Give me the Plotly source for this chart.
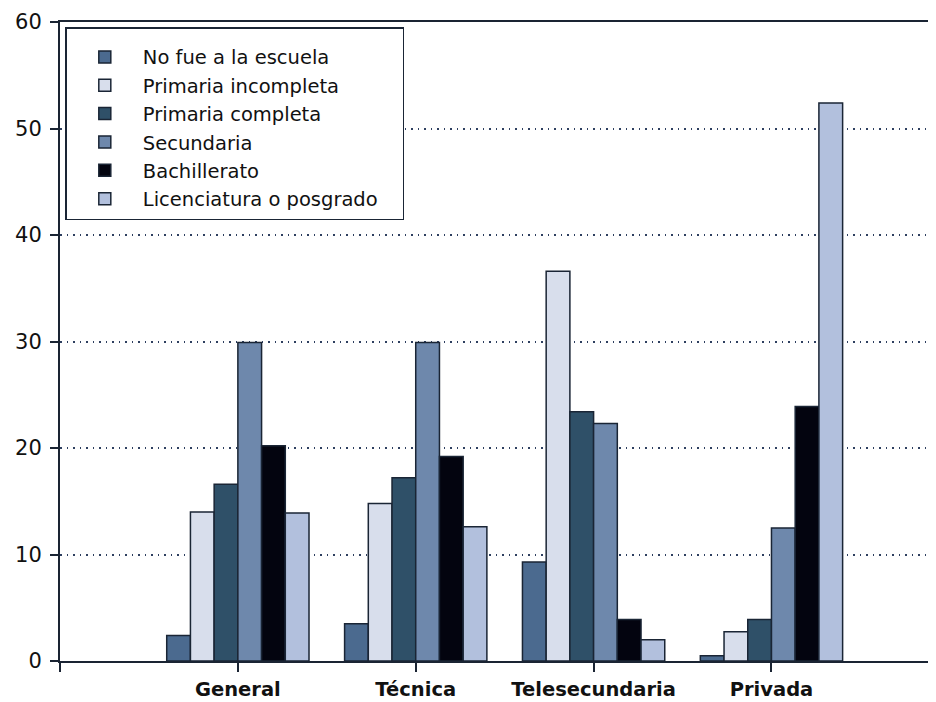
import plotly.graph_objects as go

categories = ["General", "Técnica", "Telesecundaria", "Privada"]
axis_categories = [" "] + categories

series_names = [
    "No fue a la escuela",
    "Primaria incompleta",
    "Primaria completa",
    "Secundaria",
    "Bachillerato",
    "Licenciatura o posgrado",
]
no_fue = [2.4, 3.5, 9.3, 0.5]
prim_incompleta = [14.0, 14.8, 36.6, 2.75]
prim_completa = [16.6, 17.2, 23.4, 3.9]
secundaria = [29.9, 29.9, 22.3, 12.5]
bachillerato = [20.2, 19.2, 3.9, 23.9]
licenciatura = [13.9, 12.6, 2.0, 52.4]

colors = ["#4b6a8f", "#d8deec", "#2f5068", "#6e88ac", "#03040f", "#b2c0dd"]
series_values = [no_fue, prim_incompleta, prim_completa, secundaria, bachillerato, licenciatura]

fig = go.Figure()
for name, vals, col in zip(series_names, series_values, colors):
    fig.add_trace(go.Bar(
        x=categories, y=vals, name=name,
        marker=dict(color=col, line=dict(color="#1a2535", width=1.5)),
    ))

fig.update_layout(
    width=936, height=702,
    margin=dict(l=52, r=0, t=14, b=49),
    paper_bgcolor="white", plot_bgcolor="white",
    barmode="group", bargap=0.2, bargroupgap=0,
    font=dict(family="DejaVu Sans", size=20, color="#111111"),
    showlegend=True,
    legend=dict(
        x=0.006, y=0.992, xanchor="left", yanchor="top",
        bordercolor="#1a2535", borderwidth=1.5, bgcolor="white",
        font=dict(family="DejaVu Sans", size=19.5, color="#111111"),
        itemwidth=66, traceorder="normal",
        title=dict(text="&nbsp;" * 149, font=dict(size=7)),
    ),
    xaxis=dict(
        type="category", categoryorder="array", categoryarray=axis_categories,
        range=[0, 4.97], showgrid=False, zeroline=False,
        showline=True, linecolor="#1a2433", linewidth=2, mirror=True,
        ticks="outside", ticklen=9, tickwidth=1.5, tickcolor="#1a2433",
        tickfont=dict(family="DejaVu Sans", size=19.5, color="#111111", weight="bold"),
        ticklabelstandoff=1,
        automargin=False,
    ),
    yaxis=dict(
        range=[0, 60], tickvals=[0, 10, 20, 30, 40, 50, 60],
        showgrid=True, gridcolor="#2e3f60", griddash="1.5px,5px", gridwidth=1.5,
        zeroline=False, showline=True, linecolor="#1a2433", linewidth=2,
        ticks="outside", ticklen=8, tickwidth=1.5, tickcolor="#1a2433",
        tickfont=dict(family="DejaVu Sans", size=21, color="#111111"),
        ticklabelstandoff=4,
        automargin=False,
    ),
)

fig.write_html("out.html")
